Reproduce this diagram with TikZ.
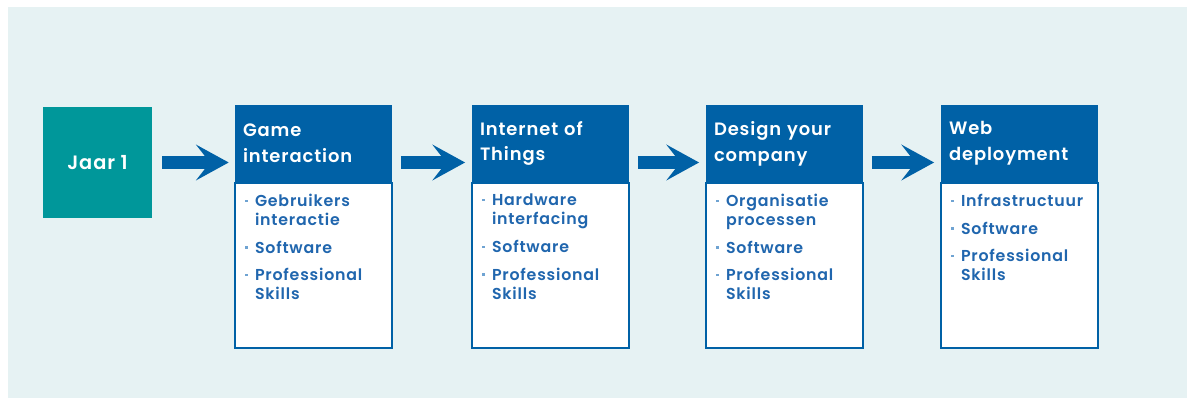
\documentclass[tikz,border=0pt]{standalone}
\usepackage{fontspec}
\setmainfont{Poppins}[BoldFont={Poppins SemiBold},LetterSpace=5]
\usetikzlibrary{arrows.meta}

\definecolor{achtergrond}{HTML}{E6F2F3}
\definecolor{petrol}{HTML}{00979A}
\definecolor{fontysblauw}{HTML}{0061A6}
\definecolor{tekstblauw}{HTML}{2066AE}
\definecolor{streepblauw}{HTML}{6FA3D2}

% one item of a list, hanging after the dash
\newcommand{\punt}[1]{\par\hangindent=0.2cm\hangafter=1\noindent\makebox[0.2cm][l]{\color{streepblauw}\rule[2.6pt]{1.8pt}{1.3pt}}#1\par}
\newcommand{\lijst}[1]{\parbox[t][3.22cm][t]{2.74cm}{\raggedright\fontsize{9}{10.8}\selectfont\bfseries\color{tekstblauw}\parskip=5pt #1}}

\begin{document}
\begin{tikzpicture}[x=0.02cm,y=-0.02cm,
    jaarbox/.style={fill=petrol,text=white,minimum width=2.18cm,minimum height=2.22cm,
      font=\fontsize{11}{13}\selectfont\bfseries},
    kop/.style={fill=fontysblauw,text=white,minimum width=3.14cm,minimum height=1.54cm,
      inner xsep=0.16cm,text width=2.82cm,align=left,font=\fontsize{10.2}{14.7}\selectfont\bfseries},
    vak/.style={draw=fontysblauw,line width=1.1pt,fill=white,anchor=north,inner xsep=0.2cm,inner ysep=0.04cm},
    pijl/.style={fontysblauw,line width=7.4pt,-{Stealth[length=18.7pt,width=20.5pt,inset=8pt,line width=0pt]}}]
  \fill[achtergrond] (8,7) rectangle (1187,398);
  \useasboundingbox (0,0) rectangle (1187,398);

  \node[jaarbox] (jaar) at (97.5,162.5) {Jaar 1};

  \node[kop] (h1) at (313.5,143.5) {Game\\interaction};
  \node[kop] (h2) at (550.5,143.5) {Internet of\\Things};
  \node[kop] (h3) at (784.5,143.5) {Design your\\company};
  \node[kop] (h4) at (1019.5,143.5) {Web\\deployment};

  \node[vak,minimum width=3.14cm] (b1) at (h1.south) {\lijst{\punt{Gebruikers\newline interactie}\punt{Software}\punt{Professional\newline Skills}}};
  \node[vak,minimum width=3.14cm] (b2) at (h2.south) {\lijst{\punt{Hardware\newline interfacing}\punt{Software}\punt{Professional\newline Skills}}};
  \node[vak,minimum width=3.14cm] (b3) at (h3.south) {\lijst{\punt{Organisatie\newline processen}\punt{Software}\punt{Professional\newline Skills}}};
  \node[vak,minimum width=3.14cm] (b4) at (h4.south) {\lijst{\punt{Infrastructuur}\punt{Software}\punt{Professional\newline Skills}}};

  \draw[pijl,shorten <=5.7pt,shorten >=3.4pt] (jaar.east) -- (jaar.east -| h1.west);
  \draw[pijl,shorten <=4.5pt,shorten >=3.4pt] (b1.east |- jaar.east) -- (b2.west |- jaar.east);
  \draw[pijl,shorten <=4.5pt,shorten >=3.4pt] (b2.east |- jaar.east) -- (b3.west |- jaar.east);
  \draw[pijl,shorten <=4.5pt,shorten >=3.4pt] (b3.east |- jaar.east) -- (b4.west |- jaar.east);
\end{tikzpicture}
\end{document}
